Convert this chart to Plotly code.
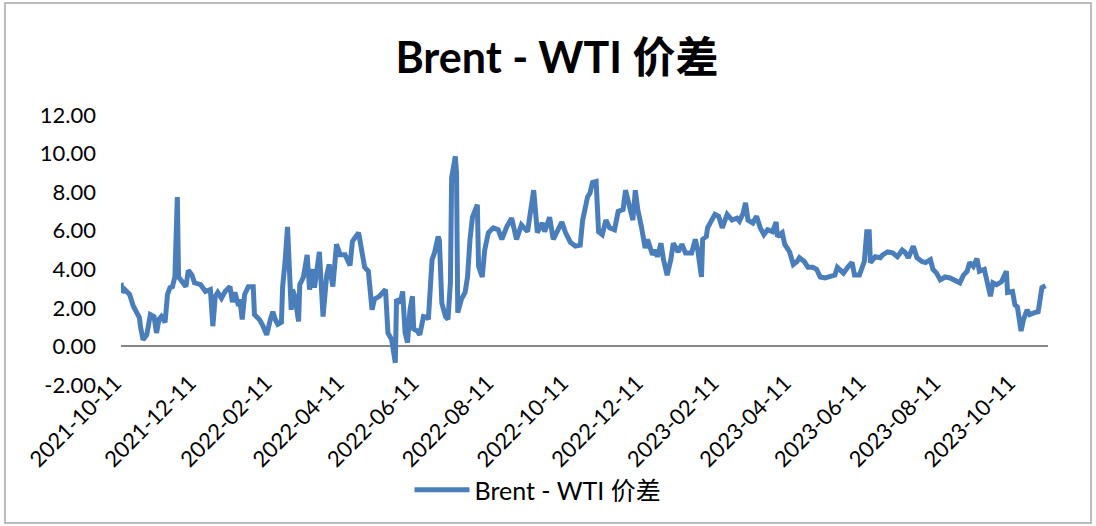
import pandas as pd
import plotly.graph_objects as go

start_date = "2021-10-11"
# days since start_date
day_offsets = [
    0, 1, 3, 7, 10, 13, 15, 16, 18, 21, 24, 27, 29, 31, 33, 36, 38, 40, 42, 44,
    46, 47, 50, 53, 55, 58, 60, 65, 69, 73, 75, 77, 79, 82, 85, 89, 91, 93, 96, 97,
    99, 101, 104, 108, 109, 113, 116, 119, 122, 124, 126, 128, 131, 132, 134, 136, 139, 140, 142, 145,
    146, 149, 152, 154, 157, 158, 162, 165, 168, 170, 173, 176, 179, 183, 187, 189, 194, 197, 199, 202,
    205, 207, 211, 216, 218, 221, 224, 225, 228, 230, 232, 234, 236, 238, 239, 242, 244, 247, 250, 251,
    254, 256, 259, 260, 262, 265, 267, 269, 270, 273, 274, 275, 278, 281, 283, 285, 287, 291, 292, 295,
    297, 300, 304, 308, 311, 315, 319, 323, 327, 332, 335, 337, 340, 344, 346, 350, 353, 356, 360, 363,
    367, 371, 375, 377, 379, 381, 383, 385, 388, 390, 393, 396, 399, 403, 406, 410, 412, 415, 418, 420,
    422, 425, 428, 430, 434, 436, 438, 441, 443, 446, 449, 451, 455, 458, 461, 466, 469, 471, 474, 475,
    478, 479, 483, 485, 488, 491, 495, 499, 503, 505, 508, 510, 512, 516, 519, 522, 525, 528, 532, 535,
    536, 540, 542, 546, 549, 552, 554, 558, 561, 565, 568, 571, 575, 579, 583, 585, 590, 594, 597, 599,
    603, 607, 609, 611, 612, 616, 620, 622, 626, 630, 632, 634, 638, 640, 643, 647, 650, 654, 657, 661,
    663, 666, 669, 673, 677, 681, 685, 688, 691, 693, 696, 699, 701, 705, 707, 710, 712, 715, 719, 723,
    724, 728, 730, 732, 735, 737, 740, 742, 746, 749, 752, 755,
]
spread = [
    3.3, 2.8, 2.95, 2.7, 2.1, 1.65, 1.5, 1.0, 0.35, 0.6, 1.65, 1.55, 0.7, 1.4, 1.55, 1.25, 2.7, 3.05, 3.1, 3.6,
    7.75, 3.6, 3.35, 3.1, 3.95, 3.7, 3.3, 3.2, 2.85, 2.95, 1.05, 2.6, 2.8, 2.5, 2.85, 3.1, 2.3, 2.8, 2.1, 2.45,
    1.4, 2.7, 3.1, 3.1, 1.65, 1.4, 1.05, 0.6, 1.4, 1.8, 1.4, 1.15, 1.25, 3.1, 4.4, 6.2, 1.9, 2.95, 2.6, 1.3,
    3.2, 3.6, 4.75, 2.95, 4.0, 3.05, 4.9, 1.55, 3.7, 4.25, 3.1, 5.3, 4.75, 4.75, 4.2, 5.45, 5.9, 5.0, 4.1, 3.9,
    1.9, 2.45, 2.6, 2.95, 0.7, 0.35, -0.85, 2.45, 2.25, 2.85, 0.7, 0.2, 1.9, 2.6, 0.9, 0.8, 0.6, 1.55, 1.5, 1.4,
    4.5, 4.85, 5.7, 5.5, 2.25, 1.55, 1.4, 3.3, 8.75, 9.85, 9.0, 1.75, 2.45, 2.8, 3.6, 5.55, 6.7, 7.35, 4.15, 3.6,
    5.0, 5.9, 6.15, 6.05, 5.55, 6.2, 6.65, 5.55, 6.3, 5.95, 7.2, 8.1, 5.9, 6.4, 5.95, 6.7, 5.55, 5.95, 6.45, 5.9,
    5.4, 5.2, 5.25, 6.55, 7.25, 7.75, 7.95, 8.5, 8.55, 5.95, 5.8, 6.55, 6.15, 6.05, 7.0, 7.1, 8.1, 7.25, 6.55, 8.1,
    7.1, 6.2, 5.1, 5.55, 4.75, 5.0, 4.65, 5.35, 4.5, 3.7, 4.5, 5.35, 4.9, 5.3, 4.85, 4.85, 5.55, 5.0, 3.6, 5.55,
    5.7, 6.15, 6.55, 6.85, 6.75, 6.15, 6.85, 6.55, 6.65, 6.5, 6.9, 7.45, 6.55, 6.4, 6.75, 6.15, 5.8, 6.05, 5.95, 6.45,
    5.7, 5.9, 5.3, 4.9, 4.25, 4.4, 4.6, 4.4, 4.1, 4.1, 4.0, 3.6, 3.55, 3.6, 3.7, 4.1, 3.8, 4.15, 4.35, 3.7,
    3.7, 4.4, 5.95, 5.95, 4.35, 4.65, 4.6, 4.75, 4.9, 4.85, 4.75, 4.65, 5.0, 4.9, 4.6, 5.2, 4.6, 4.4, 4.35, 4.5,
    4.0, 3.8, 3.45, 3.6, 3.55, 3.45, 3.3, 3.7, 3.9, 4.35, 4.15, 4.55, 3.9, 4.0, 3.45, 2.6, 3.3, 3.2, 3.35, 3.9,
    2.8, 2.85, 2.15, 2.05, 0.8, 1.4, 1.9, 1.65, 1.75, 1.8, 3.05, 3.15,
]
tick_dates = ["2021-10-11", "2021-12-11", "2022-02-11", "2022-04-11", "2022-06-11", "2022-08-11",
              "2022-10-11", "2022-12-11", "2023-02-11", "2023-04-11", "2023-06-11", "2023-08-11",
              "2023-10-11"]
y_ticks = [-2, 0, 2, 4, 6, 8, 10, 12]
y_tick_text = ["-2.00", "0.00", "2.00", "4.00", "6.00", "8.00", "10.00", "12.00"]
series_name = "Brent - WTI 价差"
axis_end_offset = 757

start = pd.Timestamp(start_date)
dates = start + pd.to_timedelta(day_offsets, unit="D")
x_end = start + pd.Timedelta(days=axis_end_offset)

FONT = "Lato, 'Noto Sans CJK SC', sans-serif"
W, H = 1096, 526
L, R, T, B = 121, 48, 115, 141
pw, ph = W - L - R, H - T - B

fig = go.Figure()
fig.add_trace(go.Scatter(
    x=dates, y=spread, mode="lines", name=series_name,
    line=dict(color="#4A7EBB", width=5),
))

def px_x(p):
    return (p - L) / pw

def px_y(p):
    return (H - B - p) / ph

fig.update_layout(
    width=W, height=H,
    margin=dict(l=L, r=R, t=T, b=B, autoexpand=False),
    paper_bgcolor="white", plot_bgcolor="white",
    font=dict(family=FONT, size=22, color="#000000"),
    title=dict(text="<b>Brent - WTI 价差</b>", x=557 / W, xanchor="center",
               y=1 - 58 / H, yanchor="middle", yref="container",
               font=dict(size=43, family=FONT, color="#000000")),
    showlegend=True,
    legend=dict(orientation="h", x=px_x(538), xanchor="center", y=px_y(490), yanchor="middle",
                font=dict(size=25, family=FONT), bgcolor="rgba(0,0,0,0)", itemwidth=55),
    xaxis=dict(type="date", range=[start, x_end], tickvals=tick_dates, ticktext=tick_dates,
               tickangle=-45, showgrid=False, zeroline=False, showline=False, ticks="",
               automargin=False, ticklabelstandoff=-20, ticklabelshift=-6,
               tickfont=dict(size=22, family=FONT)),
    yaxis=dict(range=[-2, 12], tickvals=y_ticks, ticktext=y_tick_text, showgrid=False,
               zeroline=True, zerolinecolor="#868686", zerolinewidth=2, showline=False,
               ticks="", automargin=False, ticklabelstandoff=24,
               tickfont=dict(size=22, family=FONT)),
    shapes=[dict(type="rect", xref="paper", yref="paper",
                 x0=px_x(5), x1=px_x(1091), y0=px_y(523), y1=px_y(3),
                 line=dict(color="#A6A6A6", width=1.5), fillcolor="rgba(0,0,0,0)", layer="below")],
)

fig.write_html("out.html", config={"displayModeBar": False},
               post_script="document.body.style.margin='0px';")
